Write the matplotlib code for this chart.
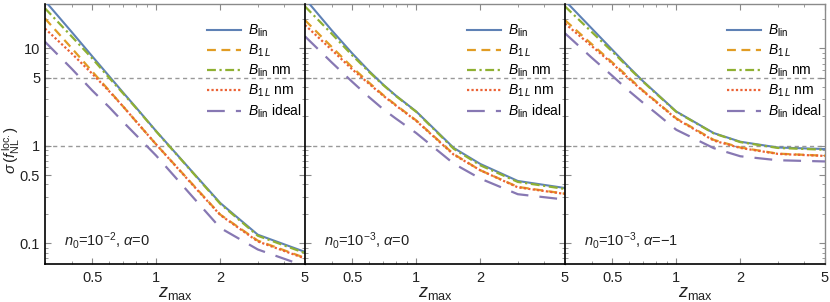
import matplotlib
matplotlib.use("Agg")
import matplotlib.pyplot as plt
from matplotlib.ticker import FixedLocator, NullFormatter, FixedFormatter
import numpy as np

plt.rcParams['font.family'] = ['Liberation Sans', 'DejaVu Sans']
plt.rcParams['mathtext.fontset'] = 'custom'
plt.rcParams['mathtext.rm'] = 'Liberation Sans'
plt.rcParams['mathtext.it'] = 'Liberation Sans:italic'

z = [0.3, 0.4, 0.5, 0.6, 0.7, 0.8, 1.0, 1.5, 2.0, 3.0, 5.0]

# panel 1: n0=1e-2, alpha=0
blin_1 = [30.8, 14.8, 8.3, 5.2, 3.5, 2.5, 1.41, 0.52, 0.258, 0.122, 0.0812]
b1l_1 = [20.3, 10.1, 5.8, 3.7, 2.52, 1.8, 1.03, 0.39, 0.196, 0.106, 0.0705]
blin_nm_1 = [25.8, 13.3, 7.9, 5.0, 3.43, 2.47, 1.40, 0.515, 0.253, 0.119, 0.079]
b1l_nm_1 = [16.0, 8.9, 5.5, 3.64, 2.52, 1.8, 1.03, 0.385, 0.194, 0.104, 0.0695]
blin_ideal_1 = [11.7, 6.2, 3.7, 2.5, 1.75, 1.3, 0.79, 0.29, 0.143, 0.086, 0.058]

# panel 2: n0=1e-3, alpha=0
blin_2 = [32.5, 15.4, 8.9, 5.86, 4.24, 3.29, 2.25, 0.95, 0.65, 0.435, 0.368]
b1l_2 = [19.5, 10.4, 6.4, 4.45, 3.31, 2.63, 1.82, 0.82, 0.56, 0.378, 0.322]
blin_nm_2 = [27.0, 14.2, 8.5, 5.74, 4.2, 3.26, 2.23, 0.93, 0.63, 0.425, 0.36]
b1l_nm_2 = [17.4, 9.7, 6.1, 4.33, 3.26, 2.6, 1.8, 0.81, 0.56, 0.374, 0.32]
blin_ideal_2 = [13.3, 7.2, 4.54, 3.16, 2.37, 1.91, 1.35, 0.655, 0.46, 0.318, 0.28]

# panel 3: n0=1e-3, alpha=-1
blin_3 = [31.0, 16.1, 9.7, 6.4, 4.58, 3.51, 2.25, 1.35, 1.1, 0.96, 0.925]
b1l_3 = [19.5, 11.1, 7.2, 5.0, 3.66, 2.88, 1.91, 1.15, 0.96, 0.83, 0.79]
blin_nm_3 = [27.0, 14.8, 9.3, 6.27, 4.53, 3.47, 2.23, 1.34, 1.09, 0.95, 0.91]
b1l_nm_3 = [18.0, 10.6, 7.0, 4.86, 3.62, 2.84, 1.89, 1.13, 0.95, 0.825, 0.786]
blin_ideal_3 = [14.3, 8.05, 5.24, 3.65, 2.75, 2.18, 1.46, 0.945, 0.78, 0.71, 0.69]

panel_labels = [r"$n_0$=10$^{-2}$, $\alpha$=0",
                r"$n_0$=10$^{-3}$, $\alpha$=0",
                r"$n_0$=10$^{-3}$, $\alpha$=$-$1"]
legend_labels = [r"$B_\mathrm{lin}$", r"$B_{1\,L}$", r"$B_\mathrm{lin}$ nm",
                 r"$B_{1\,L}$ nm", r"$B_\mathrm{lin}$ ideal"]
xticks = [0.5, 1, 2, 5]
xtick_labels = ["0.5", "1", "2", "5"]
yticks = [0.1, 0.5, 1, 5, 10]
ytick_labels = ["0.1", "0.5", "1", "5", "10"]
hlines = [1, 5]

panels = [
    [blin_1, b1l_1, blin_nm_1, b1l_nm_1, blin_ideal_1],
    [blin_2, b1l_2, blin_nm_2, b1l_nm_2, blin_ideal_2],
    [blin_3, b1l_3, blin_nm_3, b1l_nm_3, blin_ideal_3],
]

colors = ["#5E81B5", "#E19C24", "#8FB032", "#EB6235", "#8778B3"]
styles = [dict(ls="-", lw=1.5),
          dict(ls=(0, (4, 2.5)), lw=1.6),
          dict(ls=(0, (4, 1.6, 1, 1.6)), lw=1.6),
          dict(ls=(0, (1, 1)), lw=1.6),
          dict(ls=(0, (8, 5)), lw=1.6)]

W, H = 830, 302
fig = plt.figure(figsize=(W / 100, H / 100), dpi=100)
left, pw, top, bottom = 45, 260, 4, 264
frame_col = "#8a8a8a"

for i, series in enumerate(panels):
    ax = fig.add_axes([(left + i * pw) / W, (H - bottom) / H, pw / W, (bottom - top) / H])
    ax.set_xscale("log")
    ax.set_yscale("log")
    ax.set_xlim(0.3, 5)
    ax.set_ylim(0.061, 28.6)
    for h in hlines:
        ax.axhline(h, color="#999999", ls=(0, (3, 2.5)), lw=1.0, zorder=1)
    handles = []
    for s, c, st, lab in zip(series, colors, styles, legend_labels):
        ln, = ax.plot(z, s, color=c, label=lab, zorder=3, **st)
        handles.append(ln)
    ax.xaxis.set_major_locator(FixedLocator(xticks))
    ax.xaxis.set_major_formatter(FixedFormatter(xtick_labels))
    ax.xaxis.set_minor_locator(FixedLocator([0.3, 0.4, 0.6, 0.7, 0.8, 0.9, 3, 4]))
    ax.xaxis.set_minor_formatter(NullFormatter())
    ax.yaxis.set_major_locator(FixedLocator(yticks))
    ax.yaxis.set_major_formatter(FixedFormatter(ytick_labels))
    ax.yaxis.set_minor_locator(FixedLocator([0.07, 0.08, 0.09, 0.2, 0.3, 0.4, 0.6, 0.7, 0.8, 0.9,
                                             2, 3, 4, 6, 7, 8, 9, 20]))
    ax.yaxis.set_minor_formatter(NullFormatter())
    ax.tick_params(which="both", direction="in", top=True, right=True,
                   color=frame_col, labelsize=10.5, labelcolor="#222222")
    ax.tick_params(which="major", length=4, width=0.8)
    ax.tick_params(which="minor", length=2.3, width=0.6)
    ax.tick_params(axis="x", pad=5)
    if i > 0:
        ax.tick_params(axis="y", labelleft=False)
    for name, sp in ax.spines.items():
        sp.set_color(frame_col)
        sp.set_linewidth(1.0)
    for name in ("left", "bottom"):
        ax.spines[name].set_color("black")
        ax.spines[name].set_linewidth(1.2)
        ax.spines[name].set_zorder(5)
    fig.text((left + i * pw + pw / 2) / W, 1 - 293 / H, r"$z_\mathrm{max}$",
             fontsize=13, ha="center", va="center", color="#222222")
    ax.text(0.073, 0.092, panel_labels[i], transform=ax.transAxes, fontsize=10.5,
            ha="left", va="center", color="#222222")
    ax.legend(handles=handles, loc="upper left", bbox_to_anchor=(0.6, 0.95),
              frameon=False, fontsize=10, handlelength=2.5, handletextpad=0.45,
              labelspacing=0.26, borderaxespad=0.0)

fig.text(11 / W, 1 - 150 / H, r"$\sigma\,(f_\mathrm{NL}^{\,\mathrm{loc.}})$", fontsize=11,
         rotation=90, ha="center", va="center", color="#222222")

fig.savefig("out.png", dpi=100)
